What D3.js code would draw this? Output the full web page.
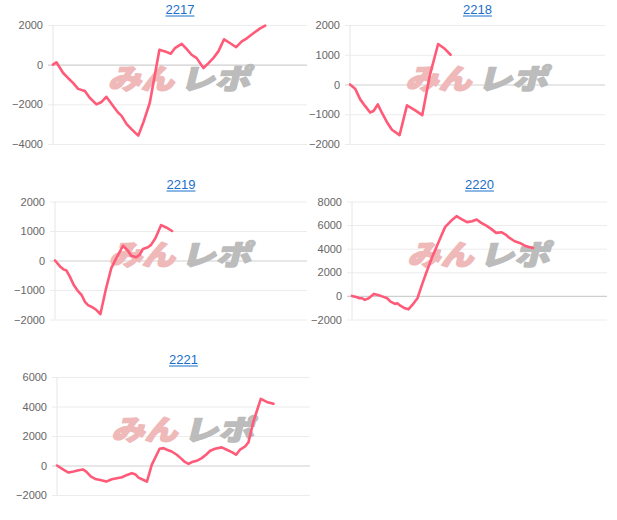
<!DOCTYPE html>
<html lang="ja">
<head>
<meta charset="UTF-8">
<title>差枚グラフ</title>
<style>
  body { margin: 0; background: #fff; font-family: Arial, 'Liberation Sans', sans-serif; }
  svg { display: block; }
  .title { font-size: 13px; fill: #1a6fc9; }
  .tick text { font-size: 11px; fill: #666; font-family: Arial, 'Liberation Sans', sans-serif; }
  .mark { font-family: 'Noto Sans CJK JP', sans-serif; font-weight: 900; font-size: 28px; stroke-width: 1.6; stroke-linejoin: round; }
</style>
</head>
<body>
<svg id="chart" width="617" height="520"></svg>
<script src="https://d3js.org/d3.v7.min.js"></script>
<script>
// machine numbers (panel titles)
const machines = ['2217', '2218', '2219', '2220', '2221'];

// games played / coin difference per machine
const games2217 = [0,120,360,530,710,890,1130,1300,1540,1720,1890,2130,2310,2430,2610,2780,3020,3200,3430,3770,3970,4170,4320,4560,4740,4910,5090,5330,5510,5680,5860,6060,6280,6490,6690,6870,7100,7340,7520];
const diff2217  = [0,120,-420,-670,-920,-1220,-1330,-1670,-2000,-1880,-1620,-2080,-2420,-2580,-3000,-3250,-3580,-2920,-1920,750,670,550,830,1050,780,500,330,-170,80,330,670,1280,1080,880,1170,1330,1580,1830,1970];

const games2218 = [0,180,360,530,710,830,980,1120,1300,1480,1750,2010,2290,2550,2810,3110,3320,3550];
const diff2218  = [0,-140,-500,-720,-940,-890,-670,-940,-1260,-1520,-1700,-700,-860,-1030,280,1360,1220,1000];

const games2219 = [0,180,300,410,530,670,830,950,1070,1180,1360,1480,1620,1810,2010,2190,2430,2600,2720,2900,3020,3140,3320,3430,3590,3790,3970,4180];
const diff2219  = [0,-200,-300,-340,-545,-830,-1050,-1170,-1400,-1510,-1600,-1680,-1820,-1000,-260,80,500,340,160,110,190,390,450,530,760,1200,1120,1000];

const games2220 = [0,180,260,360,450,590,770,920,1090,1240,1360,1520,1600,1720,1870,1990,2130,2310,2490,2660,2840,3020,3170,3290,3430,3550,3690,3850,4060,4240,4400,4560,4740,4910,5090,5270,5420,5560,5740,5920,6100,6250,6390];
const diff2220  = [0,-110,-200,-200,-340,-200,170,80,-60,-200,-480,-680,-620,-850,-1050,-1140,-770,-200,1080,2220,3350,4350,5200,5850,6190,6480,6760,6530,6250,6330,6480,6190,5960,5680,5340,5400,5200,4910,4630,4490,4260,4150,4060];

const games2221 = [0,240,410,590,770,920,1040,1210,1360,1540,1750,1950,2130,2310,2490,2660,2780,2900,3080,3200,3370,3650,3790,3910,4080,4260,4400,4530,4680,4800,4970,5150,5300,5450,5620,5860,6040,6220,6370,6510,6690,6810,6990,7250,7460,7700];
const diff2221  = [0,-300,-480,-410,-320,-270,-410,-750,-910,-980,-1090,-930,-860,-800,-640,-520,-590,-820,-980,-1090,45,1135,1180,1070,950,730,500,270,110,230,320,500,730,1000,1135,1230,1070,910,730,1070,1290,1570,3000,4520,4310,4180];

// y axis ranges and tick steps
const yMin  = [-4000, -2000, -2000, -2000, -2000];
const yMax  = [2000, 2000, 2000, 8000, 6000];
const yStep = [2000, 1000, 1000, 2000, 2000];
const gameMax = 9000;

const series = [
  [games2217, diff2217], [games2218, diff2218], [games2219, diff2219],
  [games2220, diff2220], [games2221, diff2221]
];

// panel layout
const panels = [
  { left: 53,  right: 307, top: 25,    bottom: 144,   titleY: 14 },
  { left: 350, right: 605, top: 25,    bottom: 144,   titleY: 14 },
  { left: 55,  right: 307, top: 201.5, bottom: 319.5, titleY: 189 },
  { left: 352, right: 607, top: 201.5, bottom: 319.5, titleY: 189 },
  { left: 57,  right: 310, top: 377,   bottom: 495,   titleY: 364 }
];

const svg = d3.select('#chart');

panels.forEach((p, i) => {
  const w = p.right - p.left;
  const x = d3.scaleLinear().domain([0, gameMax]).range([0, w]);
  const y = d3.scaleLinear().domain([yMin[i], yMax[i]]).range([p.bottom, p.top]);
  const g = svg.append('g').attr('transform', `translate(${p.left},0)`);

  // title (looks like a link)
  const t = g.append('text').attr('class', 'title')
    .attr('x', w / 2).attr('y', p.titleY)
    .attr('text-anchor', 'middle')
    .text(machines[i]);
  const tw = t.node().getComputedTextLength();
  g.append('line')
    .attr('x1', w / 2 - tw / 2).attr('x2', w / 2 + tw / 2)
    .attr('y1', p.titleY + 2).attr('y2', p.titleY + 2)
    .attr('stroke', '#1a6fc9').attr('stroke-width', 1);

  // y axis + grid
  const ticks = d3.range(yMin[i], yMax[i] + 1, yStep[i]);
  const ax = g.append('g')
    .call(d3.axisLeft(y).tickValues(ticks).tickFormat(d3.format('d'))
      .tickSizeInner(-w).tickSizeOuter(0).tickPadding(10));
  ax.select('.domain').remove();
  ax.selectAll('.tick line')
    .attr('x1', -5)
    .attr('stroke', d => d === 0 ? '#cfcfcf' : '#ececec')
    .attr('stroke-width', d => d === 0 ? 1.2 : 1);
  g.append('line')
    .attr('x1', 0).attr('x2', 0)
    .attr('y1', p.top).attr('y2', p.bottom)
    .attr('stroke', '#e6e6e6');

  // watermark
  const cx = w / 2 - 2, cy = (p.top + p.bottom) / 2 + 4;
  const wm = g.append('g').attr('transform', `translate(${cx},${cy}) skewX(-14)`);
  wm.append('text').attr('class', 'mark')
    .attr('x', -70).attr('y', 0)
    .attr('textLength', 66).attr('lengthAdjust', 'spacingAndGlyphs')
    .attr('fill', '#efb9b9').attr('stroke', '#efb9b9').text('みん');
  wm.append('text').attr('class', 'mark')
    .attr('x', 2).attr('y', 0)
    .attr('textLength', 70).attr('lengthAdjust', 'spacingAndGlyphs')
    .attr('fill', '#bcbcbc').attr('stroke', '#bcbcbc').text('レポ');

  // data line
  const [gs, vs] = series[i];
  const pts = gs.map((d, k) => [d, vs[k]]);
  g.append('path')
    .datum(pts)
    .attr('fill', 'none')
    .attr('stroke', '#ff5a78')
    .attr('stroke-width', 2.6)
    .attr('stroke-linejoin', 'round')
    .attr('stroke-linecap', 'round')
    .attr('d', d3.line().x(d => x(d[0])).y(d => y(d[1])));
});
</script>
</body>
</html>
